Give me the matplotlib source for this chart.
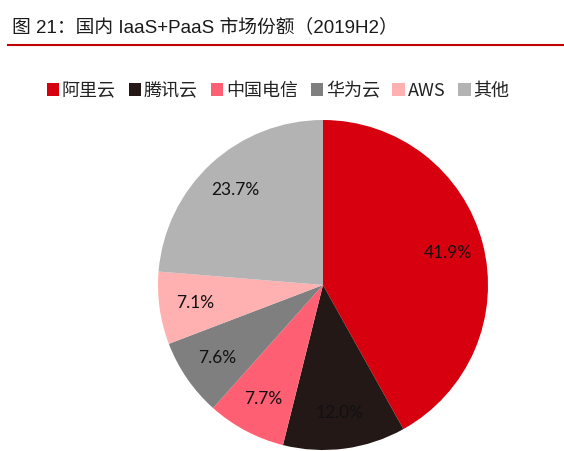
import matplotlib
matplotlib.use("Agg")
import matplotlib.pyplot as plt
from matplotlib.patches import Patch
from matplotlib.lines import Line2D

plt.rcParams['font.family'] = ['Noto Sans CJK SC', 'DejaVu Sans']

# === Data ===
vendors = ['阿里云', '腾讯云', '中国电信', '华为云', 'AWS', '其他']
shares = [41.9, 12.0, 7.7, 7.6, 7.1, 23.7]
colors = ['#D7000F', '#231815', '#FF5F73', '#7F7F7F', '#FFB0B0', '#B3B3B3']

fig = plt.figure(figsize=(5.64, 4.51), dpi=100)

# title and red rule
fig.text(12 / 564, 1 - 27 / 451, '图 21：国内 IaaS+PaaS 市场份额（2019H2）',
         fontsize=13.5, color='#1a1a1a', va='center', ha='left',
         family=['Liberation Sans', 'Noto Sans CJK SC'])
fig.add_artist(Line2D([8 / 564, 1.0], [1 - 45 / 451, 1 - 45 / 451],
                      color='#C00000', linewidth=1.5))

# pie
ax = fig.add_axes([158 / 564, 1 / 451, 330 / 564, 330 / 451])
wedges, texts, autotexts = ax.pie(shares, colors=colors, startangle=90,
                                  counterclock=False, autopct='%1.1f%%',
                                  pctdistance=0.78, radius=1.0,
                                  textprops={'fontsize': 12.5, 'color': '#111111',
                                             'family': ['Lato', 'DejaVu Sans']})
ax.set_xlim(-1, 1)
ax.set_ylim(-1, 1)
ax.set_aspect('equal')
ax.axis('off')

# legend
handles = [Patch(facecolor=c, edgecolor='none') for c in colors]
fig.legend(handles, vendors, loc='center', bbox_to_anchor=(278 / 564, 1 - 91 / 451),
           ncol=6, frameon=False, fontsize=13, handlelength=0.7, handleheight=0.7,
           handletextpad=0.15, columnspacing=0.7, labelcolor='#222222')

plt.savefig('out.png', dpi=100)
